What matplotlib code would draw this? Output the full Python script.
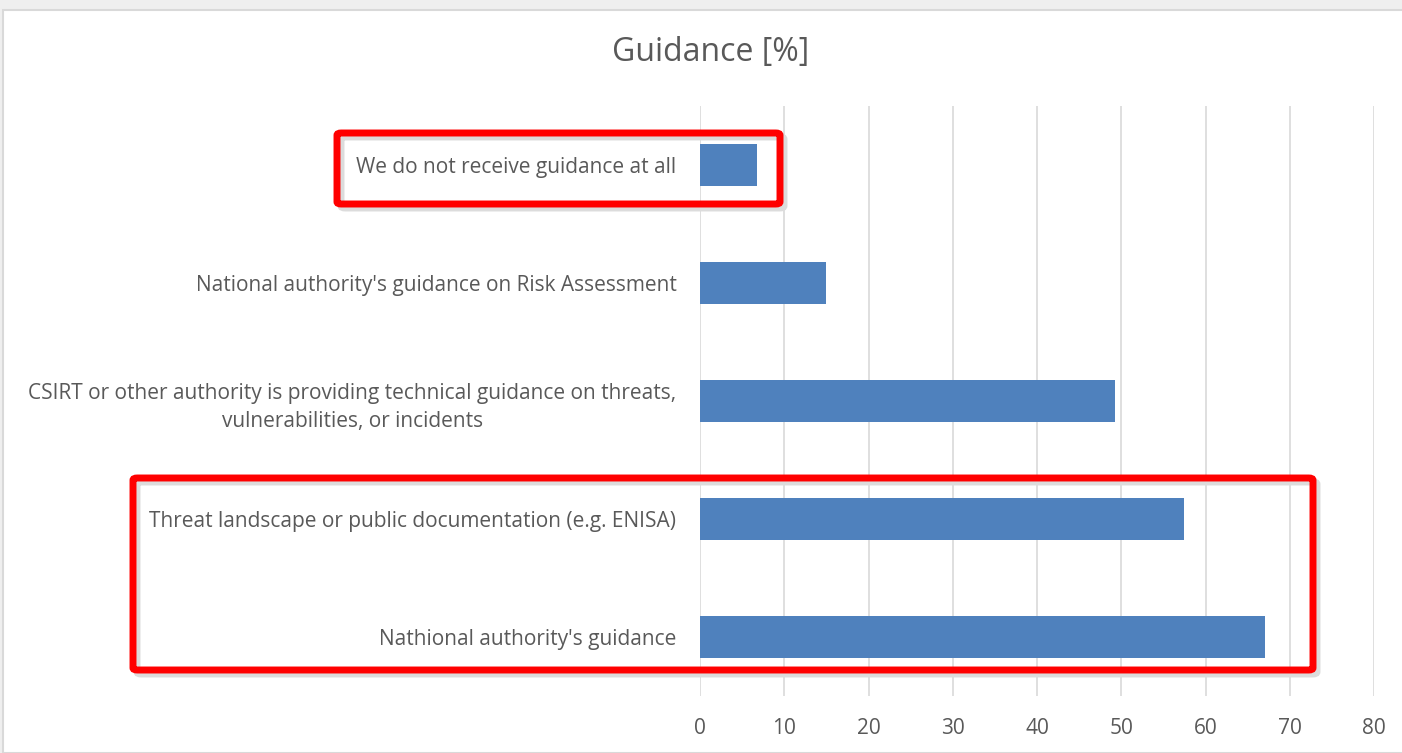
import matplotlib.pyplot as plt
from matplotlib.patches import Rectangle, FancyBboxPatch

categories = [
    "Nathional authority's guidance",
    "Threat landscape or public documentation (e.g. ENISA)",
    "CSIRT or other authority is providing technical guidance on threats,\nvulnerabilities, or incidents",
    "National authority's guidance on Risk Assessment",
    "We do not receive guidance at all",
]
values = [67.1, 57.5, 49.3, 15.0, 6.8]
xticks = [0, 10, 20, 30, 40, 50, 60, 70, 80]

W, H = 1402, 753
plt.rcParams['font.family'] = ['Open Sans', 'DejaVu Sans']
txt = '#595959'

fig = plt.figure(figsize=(W / 100, H / 100), dpi=100)
fig.patch.set_facecolor('#efefef')
# white chart area with light border
fig.patches.append(Rectangle((3 / W, 0), 1, 1 - 10 / H, transform=fig.transFigure,
                             facecolor='white', edgecolor='#d9d9d9', lw=1.5, zorder=-5))

ax = fig.add_axes([700 / W, 1 - 696 / H, 674 / W, 590 / H])
ax.set_facecolor('none')
ax.barh(range(len(categories)), values, height=0.36, color='#4f81bd', zorder=3)
ax.set_xlim(0, 80)
ax.set_ylim(-0.5, len(categories) - 0.5)
ax.set_xticks(xticks)
ax.set_yticks(range(len(categories)))
ax.set_yticklabels(categories)
for lab in ax.get_yticklabels():
    lab.set_multialignment('center')
    lab.set_linespacing(1.45)
ax.tick_params(axis='both', length=0, labelsize=15, colors=txt)
ax.tick_params(axis='y', pad=17)
ax.tick_params(axis='x', pad=16)
ax.grid(axis='x', color='#d9d9d9', lw=1.2, zorder=0)
for s in ax.spines.values():
    s.set_visible(False)

fig.text(711 / W, 1 - 52 / H, "Guidance [%]", ha='center', va='center',
         fontsize=23, color=txt)

# red highlight boxes with soft shadow
for (x0, y0, x1, y1) in [(337, 133, 780, 204), (133, 478, 1313, 670)]:
    fig.patches.append(FancyBboxPatch(((x0 + 4) / W, 1 - (y1 + 4) / H),
                                      (x1 - x0) / W, (y1 - y0) / H,
                                      boxstyle='round,pad=0,rounding_size=0.003',
                                      transform=fig.transFigure, facecolor='none',
                                      edgecolor='#dcdcdc', lw=5, zorder=9))
    fig.patches.append(FancyBboxPatch((x0 / W, 1 - y1 / H), (x1 - x0) / W, (y1 - y0) / H,
                                      boxstyle='round,pad=0,rounding_size=0.003',
                                      transform=fig.transFigure, facecolor='none',
                                      edgecolor='#ff0000', lw=5, zorder=10))

fig.savefig('out.png', dpi=100)
